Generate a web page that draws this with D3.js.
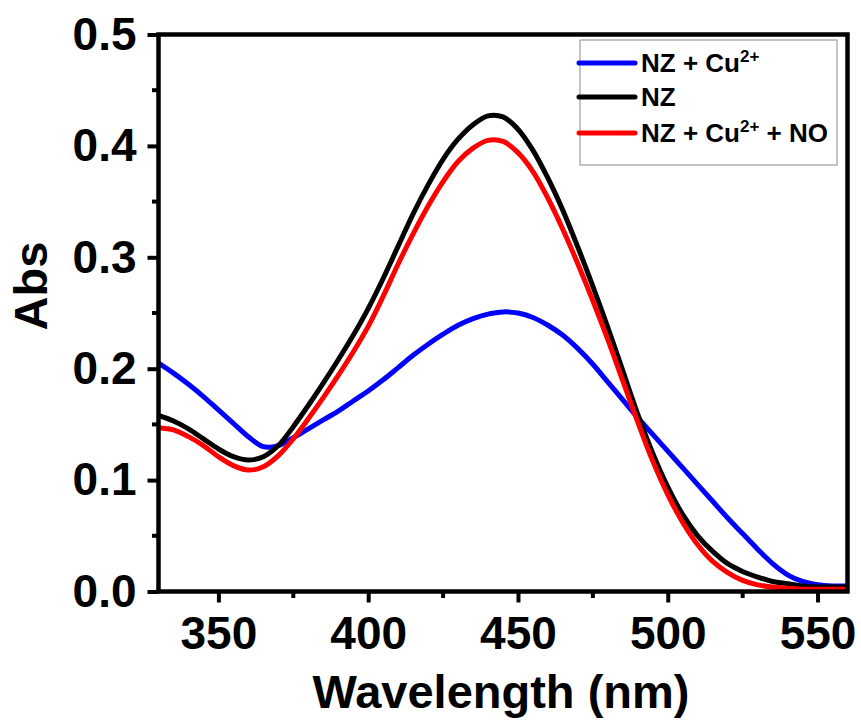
<!DOCTYPE html>
<html lang="en">
<head>
    <meta charset="UTF-8">
    <title>UV-Vis Abs spectra</title>
    <script src="https://d3js.org/d3.v7.min.js"></script>
    <style>
        body {
            margin: 0;
            background: #fff;
            font-family: "Liberation Sans", Arial, sans-serif;
        }
        .tick-label {
            font-size: 46px;
            font-weight: bold;
        }
        .axis-title {
            font-size: 47px;
            font-weight: bold;
        }
        .legend-text {
            font-size: 26px;
            font-weight: bold;
        }
        .curve {
            fill: none;
            stroke-width: 5;
        }
    </style>
</head>
<body>
    <svg id="chart" width="861" height="720"></svg>

    <script>
        // Data (wavelength in nm, 5 nm steps)
        const wavelengths = d3.range(330, 561, 5);

        const absNZCu = [
            0.205, 0.196, 0.186, 0.175, 0.163, 0.151, 0.139, 0.130, 0.131, 0.138,
            0.146, 0.154, 0.162, 0.171, 0.180, 0.190, 0.201, 0.212, 0.222, 0.231,
            0.239, 0.245, 0.249, 0.251, 0.250, 0.246, 0.239, 0.230, 0.218, 0.204,
            0.188, 0.172, 0.156, 0.141, 0.126, 0.111, 0.096, 0.081, 0.066, 0.052,
            0.038, 0.025, 0.015, 0.009, 0.006, 0.005, 0.005
        ];
        const absNZ = [
            0.158, 0.153, 0.146, 0.137, 0.128, 0.121, 0.118, 0.121, 0.131, 0.148,
            0.167, 0.187, 0.208, 0.230, 0.254, 0.281, 0.310, 0.339, 0.365, 0.388,
            0.406, 0.419, 0.427, 0.426, 0.415, 0.396, 0.371, 0.342, 0.309, 0.274,
            0.237, 0.198, 0.159, 0.124, 0.094, 0.069, 0.050, 0.036, 0.025, 0.018,
            0.013, 0.009, 0.007, 0.005, 0.004, 0.004, 0.004
        ];
        const absNZCuNO = [
            0.147, 0.145, 0.139, 0.131, 0.121, 0.113, 0.109, 0.112, 0.122, 0.137,
            0.155, 0.174, 0.194, 0.215, 0.238, 0.265, 0.294, 0.321, 0.346, 0.368,
            0.386, 0.398, 0.405, 0.404, 0.394, 0.377, 0.353, 0.325, 0.294, 0.261,
            0.226, 0.189, 0.152, 0.117, 0.087, 0.062, 0.042, 0.027, 0.017, 0.010,
            0.006, 0.004, 0.003, 0.002, 0.002, 0.002, 0.002
        ];

        const seriesNames = ["NZ + Cu", "NZ", "NZ + Cu"];
        const seriesSup = ["2+", "", "2+"];
        const seriesTail = ["", "", " + NO"];
        const seriesColors = ["#0000ff", "#000000", "#ff0000"];

        const xTicks = [350, 400, 450, 500, 550];
        const xMinor = [375, 425, 475, 525];
        const yTicks = [0.0, 0.1, 0.2, 0.3, 0.4, 0.5];
        const yMinor = [0.05, 0.15, 0.25, 0.35, 0.45];

        // layout (plot frame edges)
        const plotL = 158.5, plotR = 847.5, plotT = 34.5, plotB = 591.5;
        const svg = d3.select("#chart");

        const x = d3.scaleLinear().domain([330, 560]).range([plotL, plotR]);
        const y = d3.scaleLinear().domain([0, 0.5]).range([plotB, plotT]);

        svg.append("defs").append("clipPath")
            .attr("id", "plot-clip")
            .append("rect")
            .attr("x", plotL).attr("y", plotT)
            .attr("width", plotR - plotL).attr("height", plotB - plotT);

        // curves (blue drawn first, then black, red on top)
        const line = d3.line()
            .x((d, i) => x(wavelengths[i]))
            .y(d => y(d))
            .curve(d3.curveCatmullRom);

        const allSeries = [absNZCu, absNZ, absNZCuNO];
        allSeries.forEach((vals, k) => {
            svg.append("path")
                .attr("class", "curve")
                .attr("clip-path", "url(#plot-clip)")
                .attr("d", line(vals))
                .attr("stroke", seriesColors[k]);
        });

        // frame box
        svg.append("rect")
            .attr("x", plotL).attr("y", plotT)
            .attr("width", plotR - plotL).attr("height", plotB - plotT)
            .attr("fill", "none")
            .attr("stroke", "#000")
            .attr("stroke-width", 4.5);

        // x axis ticks + labels
        const xAxis = d3.axisBottom(x)
            .tickValues(xTicks)
            .tickSize(11)
            .tickPadding(14)
            .tickFormat(d3.format("d"));
        const gx = svg.append("g")
            .attr("transform", `translate(0,${plotB})`)
            .call(xAxis);
        gx.select(".domain").remove();
        gx.selectAll(".tick line").attr("stroke-width", 4);
        gx.selectAll(".tick text")
            .attr("class", "tick-label")
            .attr("fill", "#000");
        gx.attr("font-family", null).attr("font-size", null);

        svg.append("g").selectAll("line")
            .data(xMinor)
            .enter()
            .append("line")
            .attr("x1", d => x(d)).attr("x2", d => x(d))
            .attr("y1", plotB).attr("y2", plotB + 6.5)
            .attr("stroke", "#000")
            .attr("stroke-width", 4);

        // y axis ticks + labels
        const yAxis = d3.axisLeft(y)
            .tickValues(yTicks)
            .tickSize(11)
            .tickPadding(11)
            .tickFormat(d3.format(".1f"));
        const gy = svg.append("g")
            .attr("transform", `translate(${plotL},0)`)
            .call(yAxis);
        gy.select(".domain").remove();
        gy.selectAll(".tick line").attr("stroke-width", 4);
        gy.selectAll(".tick text")
            .attr("class", "tick-label")
            .attr("fill", "#000");
        gy.attr("font-family", null).attr("font-size", null);

        svg.append("g").selectAll("line")
            .data(yMinor)
            .enter()
            .append("line")
            .attr("x1", plotL - 6.5).attr("x2", plotL)
            .attr("y1", d => y(d)).attr("y2", d => y(d))
            .attr("stroke", "#000")
            .attr("stroke-width", 4);

        // axis titles
        svg.append("text")
            .attr("class", "axis-title")
            .attr("x", (plotL + plotR) / 2 - 2)
            .attr("y", 708)
            .attr("text-anchor", "middle")
            .text("Wavelength (nm)");

        svg.append("text")
            .attr("class", "axis-title")
            .attr("transform", "translate(47,286) rotate(-90)")
            .attr("text-anchor", "middle")
            .text("Abs");

        // legend
        const legend = svg.append("g");
        legend.append("rect")
            .attr("x", 580).attr("y", 40)
            .attr("width", 257).attr("height", 125)
            .attr("fill", "#fff")
            .attr("stroke", "#888")
            .attr("stroke-width", 1);

        const rowY = [63, 97, 133];
        seriesNames.forEach((name, k) => {
            legend.append("line")
                .attr("x1", 579).attr("x2", 635)
                .attr("y1", rowY[k]).attr("y2", rowY[k])
                .attr("stroke", seriesColors[k])
                .attr("stroke-width", 5)
                .attr("stroke-linecap", "round");

            const t = legend.append("text")
                .attr("class", "legend-text")
                .attr("x", 641)
                .attr("y", rowY[k] + 9);
            t.append("tspan").text(name);
            if (seriesSup[k]) {
                t.append("tspan")
                    .attr("font-size", "17px")
                    .attr("dy", -10)
                    .text(seriesSup[k]);
                t.append("tspan")
                    .attr("dy", 10)
                    .text(seriesTail[k]);
            }
        });
    </script>
</body>
</html>
